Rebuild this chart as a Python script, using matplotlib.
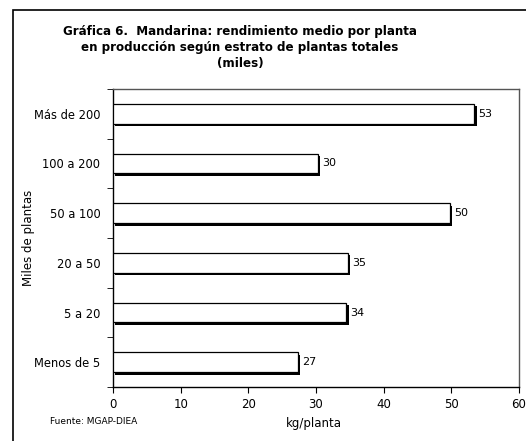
import matplotlib.pyplot as plt
import numpy as np
from matplotlib.patches import Rectangle

categorias = ['Menos de 5', '5 a 20', '20 a 50', '50 a 100', '100 a 200', 'Más de 200']
valores = [27.3, 34.5, 34.7, 49.8, 30.3, 53.4]
etiquetas = ['27', '34', '35', '50', '30', '53']
xticks = [0, 10, 20, 30, 40, 50, 60]

W, H = 526, 441
fig = plt.figure(figsize=(W / 100, H / 100), dpi=100)
plt.rcParams['font.family'] = ['DejaVu Sans']

# marco exterior
fig.patches.append(Rectangle((13 / W, -0.05), 1.1, (H - 10) / H + 0.05,
                             transform=fig.transFigure, fill=False,
                             edgecolor='black', linewidth=1.2))

ax = fig.add_axes([113 / W, 1 - 387 / H, (519 - 113) / W, (387 - 89) / H])
y = np.arange(len(categorias))
h = 0.4

# sombra desplazada + barra blanca
sx, sy = 0.35, -0.05
ax.barh(y + sy, valores, height=h, left=sx, color='black', zorder=2)
ax.barh(y, valores, height=h, color='white', edgecolor='black',
        linewidth=0.9, zorder=3)
for yi, v, t in zip(y, valores, etiquetas):
    ax.text(v + 0.6, yi, t, va='center', ha='left', fontsize=8)

ax.set_xlim(0, 60)
ax.set_ylim(-0.5, len(categorias) - 0.5)
ax.set_xticks(xticks)
ax.set_xticklabels([str(t) for t in xticks], fontsize=8.5)
ax.set_yticks(y)
ax.set_yticklabels(categorias, fontsize=8.3)
ax.tick_params(axis='y', length=0, pad=9)
ax.set_yticks(np.arange(-0.5, len(categorias)), minor=True)
ax.tick_params(axis='y', which='minor', length=4, direction='out')
ax.tick_params(axis='x', length=4, direction='out', pad=4)
for s in ax.spines.values():
    s.set_linewidth(1.0)
ax.spines['right'].set_color('#555555')
ax.spines['top'].set_color('#555555')

ax.set_xlabel('kg/planta', fontsize=8.5)
ax.xaxis.set_label_coords((314 - 113) / (519 - 113), -(417 - 387) / (387 - 89))
ax.set_ylabel('Miles de plantas', fontsize=8.5)
ax.yaxis.set_label_coords(-(113 - 35) / (519 - 113), 0.5)

fig.text(240 / W, 1 - 47 / H,
         'Gráfica 6.  Mandarina: rendimiento medio por planta\n'
         'en producción según estrato de plantas totales\n(miles)',
         ha='center', va='center', fontsize=8.6, fontweight='bold',
         linespacing=1.3)
fig.text(50 / W, 1 - 422 / H, 'Fuente: MGAP-DIEA', fontsize=6.5,
         ha='left', va='center')

fig.savefig('out.png', dpi=100)
